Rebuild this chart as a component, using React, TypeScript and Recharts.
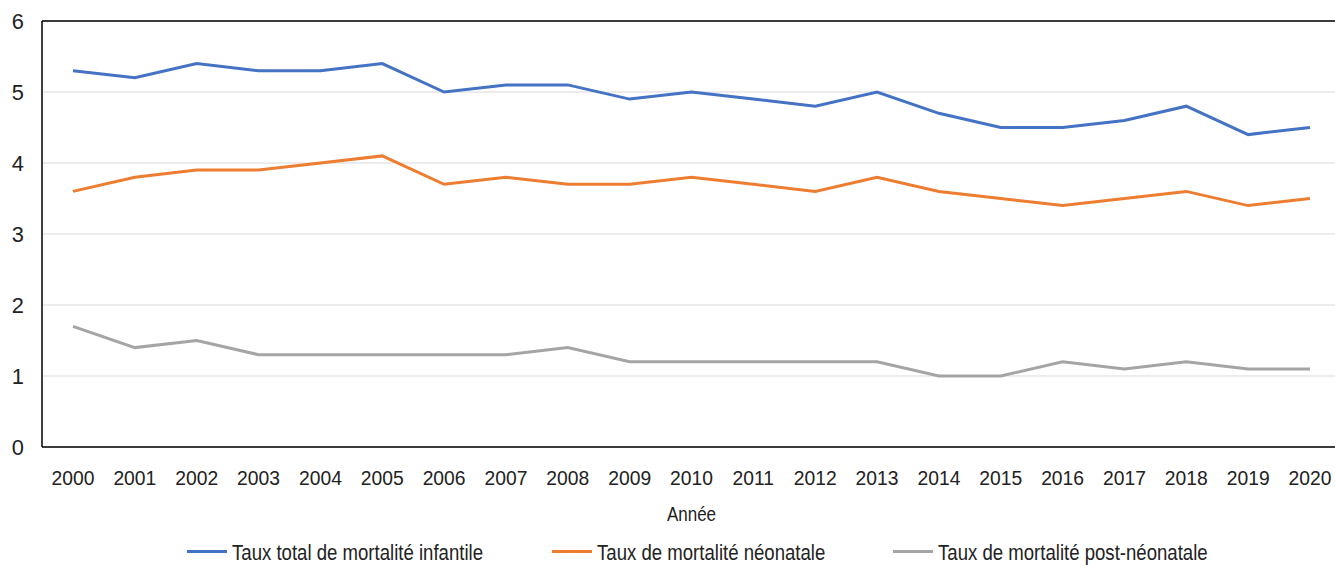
import React from 'react';
import { LineChart, Line, XAxis, YAxis, CartesianGrid, ReferenceLine, Label } from 'recharts';

const years = ['2000','2001','2002','2003','2004','2005','2006','2007','2008','2009','2010','2011','2012','2013','2014','2015','2016','2017','2018','2019','2020'];
const totalRate = [5.3, 5.2, 5.4, 5.3, 5.3, 5.4, 5.0, 5.1, 5.1, 4.9, 5.0, 4.9, 4.8, 5.0, 4.7, 4.5, 4.5, 4.6, 4.8, 4.4, 4.5];
const neonatalRate = [3.6, 3.8, 3.9, 3.9, 4.0, 4.1, 3.7, 3.8, 3.7, 3.7, 3.8, 3.7, 3.6, 3.8, 3.6, 3.5, 3.4, 3.5, 3.6, 3.4, 3.5];
const postNeonatalRate = [1.7, 1.4, 1.5, 1.3, 1.3, 1.3, 1.3, 1.3, 1.4, 1.2, 1.2, 1.2, 1.2, 1.2, 1.0, 1.0, 1.2, 1.1, 1.2, 1.1, 1.1];
const yTicks = [0, 1, 2, 3, 4, 5, 6];
const xAxisTitle = 'Année';

const series = [
  { key: 'total', name: 'Taux total de mortalité infantile', color: '#4472C4' },
  { key: 'neonatal', name: 'Taux de mortalité néonatale', color: '#ED7D31' },
  { key: 'post', name: 'Taux de mortalité post-néonatale', color: '#A5A5A5' },
];

const data = years.map((y, i) => ({
  year: y,
  total: totalRate[i],
  neonatal: neonatalRate[i],
  post: postNeonatalRate[i],
}));

const FONT = '"Liberation Sans", Arial, sans-serif';
const TEXT = '#222222';
const LEGEND_X = [187, 552, 893];

const XTick = (props: any) => {
  const { x, y, payload } = props;
  return (
    <text
      transform={`translate(${x},${y + 38}) scale(0.92,1)`}
      textAnchor="middle"
      fontSize={21}
      fontFamily={FONT}
      fill={TEXT}
    >
      {payload.value}
    </text>
  );
};

const YTick = (props: any) => {
  const { x, y, payload } = props;
  return (
    <text
      transform={`translate(${x},${y + 8}) scale(0.97,1)`}
      textAnchor="end"
      fontSize={22.5}
      fontFamily={FONT}
      fill={TEXT}
    >
      {payload.value}
    </text>
  );
};

const AxisTitle = (props: any) => {
  const { viewBox } = props;
  const cx = viewBox.x + viewBox.width / 2;
  return (
    <text
      transform={`translate(${cx},521.3) scale(0.81,1)`}
      textAnchor="middle"
      fontSize={21}
      fontFamily={FONT}
      fill={TEXT}
    >
      {xAxisTitle}
    </text>
  );
};

export default function App() {
  return (
    <div style={{ position: 'relative', width: 1335, height: 565, overflow: 'hidden', background: '#fff' }}>
      <style>{'html,body{margin:0;padding:0;overflow:hidden;background:#fff;}'}</style>
      <LineChart width={1345} height={565} data={data} margin={{ top: 21, right: 4, left: 0, bottom: 0 }}>
        <CartesianGrid vertical={false} stroke="#D9D9D9" strokeWidth={1} />
        <XAxis
          dataKey="year"
          height={118}
          padding={{ left: 31, right: 31 }}
          tickLine={false}
          tickSize={0}
          tickMargin={0}
          axisLine={{ stroke: '#000', strokeWidth: 1.5 }}
          tick={<XTick />}
          interval={0}
        >
          <Label content={<AxisTitle />} />
        </XAxis>
        <YAxis
          width={42}
          domain={[0, 6]}
          ticks={yTicks}
          tickLine={false}
          tickSize={0}
          tickMargin={18}
          axisLine={{ stroke: '#000', strokeWidth: 1.5 }}
          tick={<YTick />}
        />
        <ReferenceLine y={6} stroke="#000" strokeWidth={1.5} />
        {series.map((s) => (
          <Line
            key={s.key}
            type="linear"
            dataKey={s.key}
            name={s.name}
            stroke={s.color}
            strokeWidth={3}
            dot={false}
            activeDot={false}
            isAnimationActive={false}
          />
        ))}
      </LineChart>
      <svg width={1335} height={565} style={{ position: 'absolute', left: 0, top: 0, pointerEvents: 'none' }}>
        {series.map((s, i) => (
          <g key={s.key}>
            <line x1={LEGEND_X[i]} x2={LEGEND_X[i] + 40} y1={551.5} y2={551.5} stroke={s.color} strokeWidth={3} />
            <text
              transform={`translate(${LEGEND_X[i] + 45},560.3) scale(0.845,1)`}
              fontSize={22}
              fontFamily={FONT}
              fill={TEXT}
            >
              {s.name}
            </text>
          </g>
        ))}
      </svg>
    </div>
  );
}
